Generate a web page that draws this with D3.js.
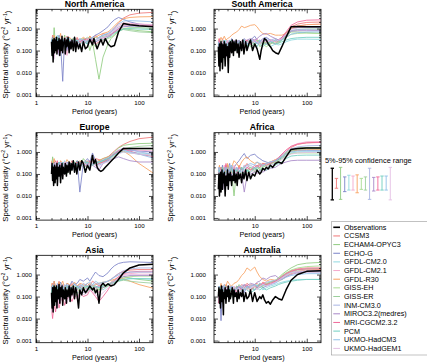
<!DOCTYPE html>
<html><head><meta charset="utf-8">
<script src="https://cdn.jsdelivr.net/npm/d3@7/dist/d3.min.js"></script>
<style>
html,body{margin:0;padding:0;background:#fff;}
svg{display:block;font-family:"Liberation Sans",Arial,Helvetica,sans-serif;}
</style></head><body>
<svg id="chart" width="427" height="362"></svg>
<script>
const regionNames = ["North America","South America","Europe","Africa","Asia","Australia"];
const modelNames = ["CCSM3","ECHAM4-OPYC3","ECHO-G","GFDL-CM2.0","GFDL-CM2.1","GFDL-R30","GISS-EH","GISS-ER","INM-CM3.0","MIROC3.2(medres)","MRI-CGCM2.3.2","PCM","UKMO-HadCM3","UKMO-HadGEM1"];
const modelColors = ["#f07878","#90cc80","#7b82c8","#8fd8e0","#f4a8cc","#f8a060","#a8dc90","#9ccf9c","#a8b4e4","#a888c8","#f06898","#70cec0","#90c0e8","#e4c0e4"];
const xTickValues = [1,10,100];
const yTickValues = [0.001,0.01,0.1,1];
const xTickLabels = ["1","10","100"];
const yTickLabels = ["0.001","0.010","0.100","1.000"];

const obsPeriods = [2.0,2.05,2.1,2.15,2.2,2.25,2.3,2.35,2.4,2.5,2.55,2.6,2.7,2.8,2.9,3.0,3.1,3.2,3.3,3.4,3.6,3.7,3.9,4.0,4.2,4.4,4.6,4.8,5.0,5.3,5.6,5.9,6.2,6.7,7.1,7.7,8.3,9.1,10,11.1,12.5,13.3,14.3,15.4,16.7,18.2,20,22.2,25,28.6,33.3,40,50,66.7,100,200];
const modelPeriods = [2.0,2.1,2.25,2.4,2.6,2.8,3.0,3.3,3.6,4.0,4.5,5.0,5.6,6.3,7.1,8.3,10,11.1,12.5,14.3,16.7,20,25,28.6,33.3,40,50,66.7,100,200];

const naObs = [.25,.06,.3,.03,.2,.35,.08,.3,.1,.4,.07,.25,.12,.35,.06,.3,.1,.45,.08,.2,.35,.07,.3,.15,.4,.08,.25,.12,.3,.1,.4,.09,.25,.12,.2,.09,.25,.12,
  .15,.32,.18,.35,.2,.12,.2,.32,.18,.35,.2,.15,.17,.7,1.7,1.5,1.35,1.2];
const naModels = [
[.2,.5,.12,.3,.15,.4,.1,.3,.2,.45,.15,.3,.25,.4,.2,.35,.3,.45,.25,.5,.35,.6,.5,.7,1.0,1.8,3.0,4.2,5.0,5.5],
[.3,.08,1.1,.15,.4,.1,.3,.2,.5,.15,.3,.2,.4,.25,.3,.2,.3,.1,.25,.04,.005,.05,.2,.35,.5,.8,1.0,.9,.8,.7],
[.15,.4,.1,.3,.15,.5,.2,.004,.35,.1,.3,.25,.4,.2,.3,.25,.35,.3,.4,.5,.6,.8,1.2,1.8,2.5,3.2,2.6,2.0,1.6,1.4],
[.25,.1,.35,.2,.5,.12,.3,.18,.25,.4,.15,.3,.2,.35,.25,.3,.2,.3,.35,.25,.3,.4,.5,.6,.8,1.0,1.3,1.2,1.1,1.0],
[.1,.3,.05,.25,.15,.4,.08,.3,.2,.06,.25,.3,.15,.3,.2,.25,.3,.35,.2,.3,.4,.35,.5,.7,1.0,1.4,1.8,1.7,1.6,1.5],
[.3,.15,.5,.2,.35,.25,.6,.15,.3,.2,.4,.3,.25,.35,.3,.4,.3,.45,.35,.4,.5,.6,.7,.9,1.3,2.0,2.8,3.2,3.4,3.5],
[.2,.35,.1,.4,.2,.15,.3,.25,.1,.3,.2,.35,.3,.2,.3,.35,.25,.3,.2,.15,.25,.3,.35,.4,.5,.7,1.0,1.1,1.1,1.0],
[.15,.25,.3,.1,.4,.2,.25,.35,.2,.3,.25,.15,.35,.3,.25,.3,.4,.35,.3,.4,.35,.45,.5,.55,.65,.8,.9,.8,.7,.65],
[.3,.2,.15,.4,.1,.3,.35,.2,.3,.15,.35,.2,.3,.25,.35,.2,.3,.25,.35,.3,.4,.5,.6,.7,.9,1.2,1.5,1.4,1.3,1.2],
[.08,.25,.2,.15,.3,.06,.2,.3,.15,.25,.1,.3,.2,.15,.25,.3,.2,.35,.3,.25,.3,.4,.45,.55,.7,.9,1.2,1.3,1.3,1.3],
[.2,.1,.3,.25,.08,.35,.2,.15,.4,.2,.3,.25,.2,.35,.25,.3,.35,.25,.3,.2,.25,.3,.4,.5,.7,1.0,1.4,1.5,1.5,1.4],
[.25,.3,.15,.2,.35,.2,.15,.3,.25,.2,.3,.15,.25,.3,.2,.25,.2,.3,.25,.3,.35,.3,.4,.45,.6,.75,.95,1.0,.95,.9],
[.35,.15,.25,.3,.2,.45,.25,.35,.15,.3,.35,.25,.3,.2,.35,.3,.25,.35,.4,.3,.4,.5,.6,.8,1.1,1.6,2.2,2.3,2.2,2.0],
[.1,.2,.04,.3,.25,.15,.35,.2,.06,.25,.2,.3,.15,.25,.3,.2,.35,.3,.25,.3,.35,.4,.5,.6,.8,1.1,1.4,1.5,1.5,1.5]];

const saObs = [.15,.02,.2,.012,.1,.25,.03,.2,.015,.18,.05,.25,.02,.2,.06,.15,.01,.22,.05,.25,.08,.3,.06,.25,.1,.3,.08,.2,.05,.25,.1,.3,.07,.25,.1,.2,.3,.1,
  .2,.12,.04,.1,.2,.35,.3,.2,.15,.1,.08,.07,.15,.4,1.2,1.25,1.2,1.2];
const saModels = [
[.1,.2,.05,.15,.08,.25,.12,.2,.1,.3,.15,.2,.25,.15,.3,.2,.25,.2,.3,.25,.2,.25,.2,.25,.35,.6,1.2,1.6,1.9,2.0],
[.05,.15,.1,.3,.06,.2,.15,.1,.25,.12,.2,.15,.3,.2,.15,.25,.2,.3,.15,.2,.25,.2,.3,.25,.3,.45,.7,.7,.65,.6],
[.2,.08,.25,.12,.3,.1,.2,.15,.35,.2,.25,.3,.2,.35,.25,.3,.45,.3,.25,.35,.4,.3,.25,.3,.4,.6,1.0,1.1,1.1,1.1],
[.15,.25,.08,.2,.12,.3,.06,.2,.15,.1,.25,.2,.15,.25,.2,.15,.2,.25,.2,.15,.2,.15,.2,.18,.2,.25,.3,.33,.33,.32],
[.3,.1,.2,.35,.15,.1,.25,.3,.12,.2,.3,.15,.2,.25,.3,.2,.25,.35,.2,.25,.3,.25,.2,.25,.35,.55,1.0,1.3,1.5,1.6],
[.35,.25,.4,.3,.45,.3,.35,.4,.5,.6,.7,.9,1.3,1.1,1.2,1.4,1.5,1.2,.8,.6,.55,.6,.5,.5,.5,.6,1.0,1.3,1.5,1.6],
[.08,.2,.3,.1,.25,.2,.05,.3,.2,.15,.3,.1,.25,.2,.3,.15,.2,.3,.25,.2,.15,.2,.25,.2,.3,.4,.55,.6,.62,.6],
[.2,.12,.15,.25,.04,.2,.3,.1,.2,.25,.15,.3,.2,.15,.25,.3,.2,.25,.3,.2,.25,.2,.3,.25,.3,.45,.8,.9,.95,.95],
[.12,.3,.2,.08,.3,.15,.25,.2,.1,.3,.2,.25,.15,.3,.2,.25,.3,.2,.25,.3,.35,.3,.35,.3,.35,.5,.8,.9,.9,.85],
[.25,.15,.1,.2,.3,.05,.15,.25,.2,.15,.3,.2,.25,.2,.3,.35,.3,.35,.45,.55,.6,.45,.35,.3,.35,.5,.75,.8,.8,.8],
[.15,.35,.12,.25,.15,.2,.3,.08,.25,.2,.15,.3,.2,.25,.3,.2,.3,.25,.2,.3,.25,.3,.25,.3,.4,.7,1.4,2.0,2.4,2.5],
[.1,.2,.25,.15,.3,.12,.2,.15,.3,.2,.1,.25,.2,.3,.15,.25,.2,.15,.25,.2,.2,.25,.2,.22,.25,.3,.35,.38,.4,.4],
[.25,.05,.2,.15,.1,.25,.2,.3,.15,.25,.2,.3,.15,.25,.2,.3,.25,.2,.3,.25,.3,.25,.3,.28,.3,.4,.55,.65,.7,.7],
[.03,.15,.2,.25,.1,.2,.3,.12,.25,.15,.2,.15,.3,.2,.25,.2,.3,.25,.2,.3,.25,.3,.25,.3,.35,.55,.9,1.1,1.2,1.2]];

const euObs = [.1,.3,.05,.2,.03,.15,.25,.04,.2,.06,.3,.03,.2,.08,.25,.04,.15,.3,.06,.2,.1,.3,.08,.25,.12,.35,.1,.3,.15,.4,.12,.3,.1,.35,.15,.4,.3,.12,
  .25,.15,.7,.3,.45,.2,.15,.13,.15,.2,.27,.38,.55,.9,1.45,1.45,1.45,1.45];
const euModels = [
[.3,.1,.25,.4,.15,.3,.2,.35,.1,.3,.25,.4,.2,.35,.3,.25,.4,.3,.35,.5,.45,.4,.6,.8,1.1,1.6,2.2,3.0,4.0,4.8],
[.15,.6,.2,.3,.1,.25,.35,.15,.3,.2,.35,.25,.3,.4,.2,.5,.3,.4,.35,.3,.4,.5,.6,.7,1.0,1.5,2.0,2.2,2.4,2.5],
[.2,.1,.35,.15,.3,.25,.1,.3,.2,.35,.2,.3,.15,.4,.015,.3,.5,.35,.9,.4,.3,.35,.45,.6,.8,1.1,1.3,1.2,1.1,1.0],
[.25,.3,.12,.35,.2,.15,.3,.25,.4,.15,.3,.2,.35,.25,.3,.2,.25,.35,.3,.25,.3,.4,.5,.6,.8,1.0,1.1,1.0,.9,.8],
[.1,.25,.3,.15,.35,.2,.25,.08,.3,.25,.15,.35,.3,.2,.3,.35,.25,.3,.4,.35,.25,.35,.5,.65,.9,1.2,1.5,1.4,1.2,1.1],
[.4,.2,.5,.25,.35,.15,.4,.3,.25,.45,.3,.2,.35,.3,.4,.25,.35,.3,.45,.35,.4,.5,.6,.7,.8,1.0,1.1,.7,.3,.1],
[.2,.35,.15,.25,.3,.1,.2,.35,.15,.3,.2,.25,.35,.2,.3,.25,.2,.3,.25,.35,.3,.35,.4,.5,.7,1.0,1.3,1.4,1.4,1.4],
[.3,.15,.2,.35,.25,.3,.15,.2,.3,.1,.25,.3,.2,.3,.25,.35,.3,.25,.35,.3,.35,.4,.5,.6,.8,1.1,1.4,1.6,1.8,2.0],
[.15,.3,.25,.1,.3,.2,.35,.25,.15,.3,.35,.15,.25,.3,.2,.3,.35,.25,.3,.4,.35,.45,.55,.7,.9,1.2,1.5,1.3,1.0,.8],
[.25,.2,.1,.3,.15,.35,.25,.2,.3,.2,.15,.25,.3,.15,.3,.2,.3,.35,.25,.2,.15,.3,.4,.45,.5,.6,.5,.4,.35,.35],
[.35,.15,.3,.2,.4,.1,.3,.15,.35,.2,.3,.2,.25,.35,.25,.3,.2,.4,.3,.25,.3,.35,.45,.6,.8,1.1,1.3,1.1,.8,.6],
[.2,.3,.2,.15,.25,.35,.15,.3,.2,.25,.3,.15,.35,.25,.2,.3,.35,.3,.25,.3,.35,.4,.5,.6,.75,.9,1.0,.9,.8,.7],
[.1,.2,.3,.25,.15,.3,.2,.35,.25,.15,.3,.25,.2,.3,.35,.25,.3,.2,.3,.35,.25,.3,.4,.55,.75,1.0,1.2,1.0,.8,.5],
[.3,.25,.15,.35,.2,.25,.3,.15,.35,.3,.2,.3,.25,.15,.3,.35,.2,.3,.35,.25,.2,.3,.35,.45,.6,.8,1.0,.9,.8,.7]];

const afObs = [.02,.1,.01,.06,.12,.015,.08,.15,.02,.1,.04,.12,.01,.08,.03,.15,.02,.1,.05,.12,.03,.08,.05,.15,.04,.1,.03,.12,.06,.1,.04,.12,.06,.15,.05,.12,.06,.1,
  .08,.15,.1,.12,.18,.15,.2,.17,.25,.2,.3,.35,.3,.6,1.3,1.45,1.5,1.5];
const afModels = [
[.05,.15,.08,.2,.1,.25,.06,.15,.1,.2,.12,.25,.15,.2,.3,.15,.25,.2,.3,.25,.3,.35,.4,.5,.7,1.0,1.6,2.2,2.6,2.8],
[.1,.05,.2,.08,.15,.1,.25,.05,.12,.01,.15,.08,.2,.1,.15,.2,.12,.25,.15,.2,.25,.3,.35,.45,.6,.9,1.3,1.5,1.6,1.6],
[.15,.08,.1,.25,.06,.2,.12,.3,.08,.2,.3,.4,.6,.85,.5,.7,.8,.6,.5,.4,.35,.3,.4,.45,.55,.8,1.1,1.2,1.2,1.2],
[.08,.2,.1,.04,.15,.12,.2,.1,.25,.15,.1,.2,.15,.25,.12,.2,.15,.18,.2,.15,.2,.25,.3,.4,.5,.7,.9,1.0,1.0,1.0],
[.2,.06,.15,.1,.25,.08,.15,.2,.1,.25,.15,.2,.1,.25,.2,.15,.25,.2,.25,.3,.25,.35,.45,.55,.8,1.2,1.8,2.4,2.9,3.0],
[.12,.25,.06,.15,.2,.1,.3,.15,.2,.4,.3,.2,.35,.5,.6,.4,.3,.35,.25,.3,.3,.35,.45,.5,.6,.8,1.1,1.2,1.3,1.3],
[.06,.12,.2,.08,.12,.15,.05,.2,.12,.1,.15,.12,.2,.15,.1,.2,.15,.2,.18,.22,.25,.28,.35,.4,.5,.65,.85,.9,.9,.9],
[.15,.1,.06,.2,.15,.05,.18,.1,.2,.12,.18,.15,.1,.2,.15,.12,.18,.15,.2,.25,.2,.3,.4,.5,.6,.8,1.1,1.3,1.4,1.4],
[.1,.2,.12,.06,.2,.15,.1,.25,.15,.12,.2,.1,.18,.15,.2,.25,.18,.2,.25,.22,.3,.35,.4,.5,.7,1.0,1.4,1.7,1.9,2.0],
[.08,.04,.15,.1,.02,.12,.08,.15,.06,.1,.12,.06,.1,.015,.08,.1,.12,.1,.15,.12,.15,.18,.2,.25,.3,.35,.4,.42,.42,.42],
[.12,.06,.2,.15,.1,.3,.12,.08,.2,.15,.1,.2,.15,.12,.2,.15,.2,.25,.2,.3,.25,.3,.4,.55,.8,1.2,1.8,2.3,2.6,2.7],
[.06,.15,.1,.2,.08,.12,.15,.1,.18,.08,.15,.12,.2,.1,.15,.12,.2,.15,.12,.18,.15,.2,.25,.3,.35,.5,.65,.7,.72,.72],
[.2,.1,.08,.15,.12,.2,.1,.15,.25,.1,.2,.15,.12,.2,.25,.3,.25,.35,.3,.25,.3,.35,.4,.5,.6,.8,1.0,1.1,1.1,1.1],
[.03,.1,.15,.05,.12,.06,.15,.1,.05,.15,.1,.12,.08,.15,.1,.12,.15,.1,.12,.15,.2,.25,.3,.35,.45,.6,.8,.9,.95,.95]];

const asObs = [.15,.03,.25,.02,.2,.3,.04,.25,.06,.3,.03,.2,.08,.35,.05,.25,.1,.3,.04,.2,.08,.25,.05,.2,.1,.3,.06,.25,.12,.3,.08,.25,.15,.03,.2,.12,.25,.15,
  .2,.3,.2,.25,.15,.2,.05,.3,.4,.3,.38,.3,.35,.6,1.2,2.0,2.7,3.0];
const asModels = [
[.2,.4,.1,.3,.15,.5,.2,.35,.12,.3,.25,.4,.2,.3,.35,.25,.4,.3,.5,.4,.3,.4,.5,.6,.8,1.1,1.4,1.6,1.7,1.7],
[.1,.25,.3,.08,.2,.15,.3,.1,.25,.2,.15,.3,.2,.1,.25,.3,.2,.35,.3,.25,.2,.3,.35,.45,.55,.7,.8,.7,.6,.5],
[.3,.15,.5,.2,.35,.25,.45,.3,.2,.4,.3,.5,.35,.4,.6,.5,.7,.5,.8,1.3,.9,.8,1.2,1.8,2.5,3.2,3.6,3.8,3.7,3.5],
[.15,.08,.2,.25,.1,.3,.15,.2,.3,.12,.25,.2,.3,.15,.2,.3,.25,.2,.35,.3,.25,.2,.3,.35,.4,.5,.6,.65,.65,.6],
[.05,.15,.1,.2,.04,.15,.2,.08,.25,.15,.2,.1,.25,.2,.15,.3,.2,.25,.2,.3,.15,.25,.35,.45,.6,.8,1.0,1.1,1.2,1.2],
[.4,.2,.5,.3,.25,.45,.3,.5,.25,.4,.35,.3,.45,.3,.4,.35,.3,.4,.3,.35,.4,.45,.5,.55,.6,.7,.65,.5,.35,.23],
[.2,.1,.15,.3,.2,.1,.25,.15,.2,.3,.15,.2,.3,.25,.15,.2,.3,.25,.2,.15,.2,.25,.3,.35,.45,.55,.7,.8,.85,.85],
[.1,.3,.2,.12,.25,.2,.1,.3,.15,.2,.25,.15,.2,.3,.25,.2,.15,.3,.25,.2,.25,.3,.35,.4,.45,.5,.55,.5,.45,.4],
[.25,.15,.3,.2,.4,.15,.3,.2,.35,.25,.3,.2,.35,.3,.25,.4,.3,.35,.3,.4,.35,.4,.5,.6,.8,1.1,1.5,1.8,2.0,2.0],
[.08,.2,.12,.25,.1,.2,.3,.15,.1,.25,.2,.15,.25,.2,.3,.15,.25,.3,.2,.25,.3,.25,.35,.4,.5,.65,.8,.9,.9,.9],
[.03,.01,.05,.02,.08,.03,.06,.1,.04,.08,.1,.06,.12,.08,.15,.1,.12,.2,.15,.1,.06,.1,.2,.35,.5,.8,1.1,1.3,1.4,1.4],
[.15,.25,.08,.2,.3,.12,.2,.25,.15,.3,.2,.25,.15,.3,.2,.25,.3,.2,.25,.3,.25,.3,.35,.4,.45,.55,.6,.65,.65,.65],
[.2,.35,.25,.15,.3,.25,.4,.2,.3,.35,.2,.3,.4,.25,.35,.3,.4,.45,.35,.5,.4,.45,.5,.6,.75,.95,1.2,1.3,1.3,1.3],
[.02,.08,.05,.12,.03,.1,.06,.15,.08,.05,.12,.1,.15,.08,.2,.12,.15,.2,.18,.12,.1,.15,.25,.35,.5,.7,.9,1.0,1.0,1.0]];

const auObs = [.1,.25,.05,.2,.03,.15,.3,.06,.2,.015,.15,.08,.25,.05,.2,.1,.3,.06,.2,.08,.15,.25,.05,.2,.1,.15,.06,.2,.08,.15,.1,.2,.06,.15,.08,.1,.2,.06,
  .15,.06,.1,.08,.12,.07,.05,.06,.045,.07,.1,.08,.07,.2,.55,1.0,1.4,1.5];
const auModels = [
[.15,.3,.1,.25,.2,.35,.15,.3,.25,.2,.3,.25,.35,.3,.4,.3,.35,.4,.3,.45,.4,.35,.5,.6,.8,1.1,1.5,1.8,2.0,2.0],
[.2,.1,.3,.15,.25,.1,.2,.3,.15,.25,.2,.35,.25,.3,.2,.35,.3,.25,.4,.3,.35,.45,.55,.7,1.0,1.4,2.0,2.8,3.3,3.6],
[.1,.25,.008,.2,.15,.3,.12,.2,.25,.1,.3,.2,.25,.15,.3,.25,.2,.3,.35,.25,.3,.35,.45,.55,.7,.9,1.2,1.4,1.5,1.5],
[.25,.15,.2,.3,.1,.2,.25,.15,.3,.2,.15,.25,.3,.2,.25,.3,.2,.25,.3,.2,.25,.3,.35,.4,.45,.5,.55,.6,.6,.6],
[.08,.2,.15,.1,.3,.2,.1,.25,.2,.3,.2,.15,.3,.25,.2,.35,.3,.2,.3,.35,.3,.4,.5,.65,.85,1.1,1.4,1.7,1.9,2.0],
[.3,.2,.4,.25,.35,.3,.5,.35,.3,.4,.45,.6,.9,1.2,2.0,1.5,2.2,1.3,.8,.6,.5,.6,.55,.5,.6,.8,1.1,1.4,1.6,1.7],
[.2,.3,.15,.25,.1,.3,.2,.15,.25,.2,.3,.25,.2,.3,.25,.2,.3,.35,.25,.3,.35,.45,.55,.7,.9,1.2,1.6,2.0,2.3,2.5],
[.12,.2,.25,.08,.2,.15,.3,.2,.1,.25,.2,.3,.15,.25,.3,.2,.25,.3,.35,.3,.4,.45,.5,.6,.8,1.0,1.3,1.6,1.8,1.9],
[.3,.15,.2,.3,.2,.12,.25,.3,.2,.15,.25,.2,.3,.35,.25,.3,.35,.3,.4,.35,.45,.5,.55,.6,.75,.95,1.2,1.3,1.4,1.4],
[.15,.1,.2,.3,.15,.25,.1,.2,.3,.15,.25,.3,.2,.35,.3,.4,.35,.45,.5,.7,.6,.8,.9,.7,.6,.8,1.0,1.2,1.3,1.3],
[.05,.15,.2,.1,.25,.15,.3,.1,.2,.25,.15,.3,.2,.25,.35,.2,.3,.25,.3,.4,.35,.4,.5,.6,.8,1.1,1.4,1.7,1.8,1.8],
[.2,.1,.15,.25,.15,.2,.1,.25,.15,.2,.25,.15,.2,.25,.2,.15,.2,.25,.2,.25,.2,.25,.3,.35,.4,.45,.5,.55,.6,.6],
[.25,.3,.15,.2,.35,.15,.25,.2,.3,.25,.2,.3,.25,.2,.3,.25,.35,.3,.25,.35,.3,.35,.4,.5,.6,.75,.9,1.0,1.1,1.1],
[.1,.05,.2,.15,.1,.25,.2,.08,.15,.3,.2,.25,.15,.3,.2,.25,.3,.2,.3,.35,.3,.35,.45,.55,.7,.9,1.2,1.4,1.5,1.5]];

// 5%-95% confidence range, as factors of the estimate (obs first, then models)
const ciLow  = [0.19,0.64,0.2,0.45,0.53,0.53,0.4,0.57,0.53,0.2,0.48,0.53,0.53,0.53,0.19];
const ciHigh = [5.2,1.8,5.7,2.1,2.5,2.3,2.6,1.8,2.1,5.2,2.0,2.1,2.3,2.3,5.7];

const svg = d3.select("#chart");
const rowTops = [9.3,132.7,255.3], panelH = 87.4;
const cols = [
  {x0:36, x1:153, dom:[1,187], pad:4, ylab:5},
  {x0:214, x1:321, dom:[1.649,188], pad:8, ylab:170.5}
];
const yDom = [0.0008,7.5];
const panels = [
  [regionNames[0],0,0,naObs,naModels],
  [regionNames[1],1,0,saObs,saModels],
  [regionNames[2],0,1,euObs,euModels],
  [regionNames[3],1,1,afObs,afModels],
  [regionNames[4],0,2,asObs,asModels],
  [regionNames[5],1,2,auObs,auModels]
];
const xMinor = [2,3,4,5,6,7,8,9,20,30,40,50,60,70,80,90,200];
const yMinor = [];
[0.001,0.01,0.1,1].forEach(b=>{for(let k=2;k<=9;k++) yMinor.push(b*k);});

panels.forEach(([name,c,r,obs,models],pi)=>{
  const col = cols[c], top = rowTops[r], bot = top+panelH;
  const x = d3.scaleLog().domain(col.dom).range([col.x0,col.x1]);
  const y = d3.scaleLog().domain(yDom).range([bot,top]);
  const inX = v => v>=col.dom[0]*0.999 && v<=col.dom[1]*1.001;
  const inY = v => v>=yDom[0]*0.999 && v<=yDom[1]*1.001;
  const cid = "clip"+pi;
  svg.append("clipPath").attr("id",cid).append("rect")
    .attr("x",col.x0).attr("y",top).attr("width",col.x1-col.x0).attr("height",panelH);
  const g = svg.append("g");
  const lines = g.append("g").attr("clip-path",`url(#${cid})`);
  const mLine = d3.line().x((d,i)=>x(modelPeriods[i])).y(d=>y(d));
  const oLine = d3.line().x((d,i)=>x(obsPeriods[i])).y(d=>y(d));
  models.forEach((m,k)=>{
    lines.append("path").attr("d",mLine(m)).attr("fill","none")
      .attr("stroke",modelColors[k]).attr("stroke-width",0.85).attr("stroke-linejoin","round");
  });
  lines.append("path").attr("d",oLine(obs)).attr("fill","none")
    .attr("stroke","#000").attr("stroke-width",1.5).attr("stroke-linejoin","round");

  const styleAxis = sel => { sel.select(".domain").remove(); sel.selectAll("line").attr("stroke","#000").attr("stroke-width",0.7); };
  const xMaj = xTickValues.filter(inX);
  const xLab = xTickValues.map((v,i)=>[v,xTickLabels[i]]);
  const xFmt = v => (xLab.find(p=>p[0]===v)||[0,""])[1];
  const yLab = yTickValues.map((v,i)=>[v,yTickLabels[i]]);
  const yFmt = v => (yLab.find(p=>p[0]===v)||[0,""])[1];

  g.append("g").attr("transform",`translate(0,${bot})`)
    .call(d3.axisBottom(x).tickValues(xMaj).tickSize(-4).tickPadding(4).tickFormat(xFmt))
    .call(styleAxis).call(s=>s.selectAll("text").attr("font-size",6.2).attr("fill","#000").attr("font-family",null));
  g.append("g").attr("transform",`translate(0,${bot})`)
    .call(d3.axisBottom(x).tickValues(xMinor.filter(inX)).tickSize(-2).tickFormat(""))
    .call(styleAxis);
  g.append("g").attr("transform",`translate(0,${top})`)
    .call(d3.axisTop(x).tickValues(xMaj).tickSize(-4).tickFormat(""))
    .call(styleAxis);
  g.append("g").attr("transform",`translate(0,${top})`)
    .call(d3.axisTop(x).tickValues(xMinor.filter(inX)).tickSize(-2).tickFormat(""))
    .call(styleAxis);
  g.append("g").attr("transform",`translate(${col.x0},0)`)
    .call(d3.axisLeft(y).tickValues(yTickValues.filter(inY)).tickSize(-4).tickPadding(col.pad).tickFormat(yFmt))
    .call(styleAxis).call(s=>s.selectAll("text").attr("font-size",6.2).attr("fill","#000").attr("font-family",null));
  g.append("g").attr("transform",`translate(${col.x0},0)`)
    .call(d3.axisLeft(y).tickValues(yMinor.filter(inY)).tickSize(-2).tickFormat(""))
    .call(styleAxis);
  g.append("g").attr("transform",`translate(${col.x1},0)`)
    .call(d3.axisRight(y).tickValues(yTickValues.filter(inY)).tickSize(-4).tickFormat(""))
    .call(styleAxis);
  g.append("g").attr("transform",`translate(${col.x1},0)`)
    .call(d3.axisRight(y).tickValues(yMinor.filter(inY)).tickSize(-2).tickFormat(""))
    .call(styleAxis);

  g.append("rect").attr("x",col.x0).attr("y",top).attr("width",col.x1-col.x0).attr("height",panelH)
    .attr("fill","none").attr("stroke","#000").attr("stroke-width",0.8);

  const cx = c===0 ? (col.x0+col.x1)/2 : 262;
  g.append("text").attr("x",cx).attr("y",top-2.3).attr("text-anchor","middle")
    .attr("font-size",8.7).attr("font-weight","bold").text(name);
  g.append("text").attr("x",cx).attr("y",bot+17).attr("text-anchor","middle")
    .attr("font-size",7.2).text("Period (years)");
  const yl = g.append("text").attr("transform",`translate(${col.ylab},${(top+bot)/2+1.5}) rotate(-90)`)
    .attr("text-anchor","middle").attr("dy","0.35em").attr("font-size",7.8);
  yl.append("tspan").text("Spectral density (°C");
  yl.append("tspan").attr("font-size",5.2).attr("dy","-0.45em").text("2");
  yl.append("tspan").attr("dy","0.45em").text(" yr");
  yl.append("tspan").attr("font-size",5.2).attr("dy","-0.45em").text("-1");
  yl.append("tspan").attr("dy","0.45em").text(")");
});

// Confidence range key
const allNames = ["Observations"].concat(modelNames);
const allColors = ["#000"].concat(modelColors);
svg.append("text").attr("x",325).attr("y",163.3).attr("font-size",7.4).text("5%-95% confidence range");
const bx = d3.scalePoint().domain(d3.range(allNames.length)).range([332.3,390.3]);
const by = d3.scaleLog().domain([0.1,10]).range([206,162]);
const ci = svg.append("g");
allNames.forEach((n,i)=>{
  const xx = bx(i), y0 = by(ciLow[i]), y1 = by(ciHigh[i]);
  const w = i===0 ? 1.3 : 0.9;
  ci.append("line").attr("x1",xx).attr("x2",xx).attr("y1",y0).attr("y2",y1).attr("stroke",allColors[i]).attr("stroke-width",w);
  ci.append("line").attr("x1",xx-1.7).attr("x2",xx+1.7).attr("y1",y0).attr("y2",y0).attr("stroke",allColors[i]).attr("stroke-width",w);
  ci.append("line").attr("x1",xx-1.7).attr("x2",xx+1.7).attr("y1",y1).attr("y2",y1).attr("stroke",allColors[i]).attr("stroke-width",w);
});

// Legend
const lg = svg.append("g");
lg.append("rect").attr("x",331.5).attr("y",221.7).attr("width",100).attr("height",133.3)
  .attr("fill","#fff").attr("stroke","#999").attr("stroke-width",0.6);
const ly = d3.scalePoint().domain(d3.range(allNames.length)).range([227.3,348.4]);
allNames.forEach((n,i)=>{
  lg.append("line").attr("x1",333.3).attr("x2",340).attr("y1",ly(i)).attr("y2",ly(i))
    .attr("stroke",allColors[i]).attr("stroke-width",i===0?1.6:1);
  lg.append("text").attr("x",344).attr("y",ly(i)).attr("dy","0.35em").attr("font-size",7.2).text(n);
});
</script>
</body></html>
